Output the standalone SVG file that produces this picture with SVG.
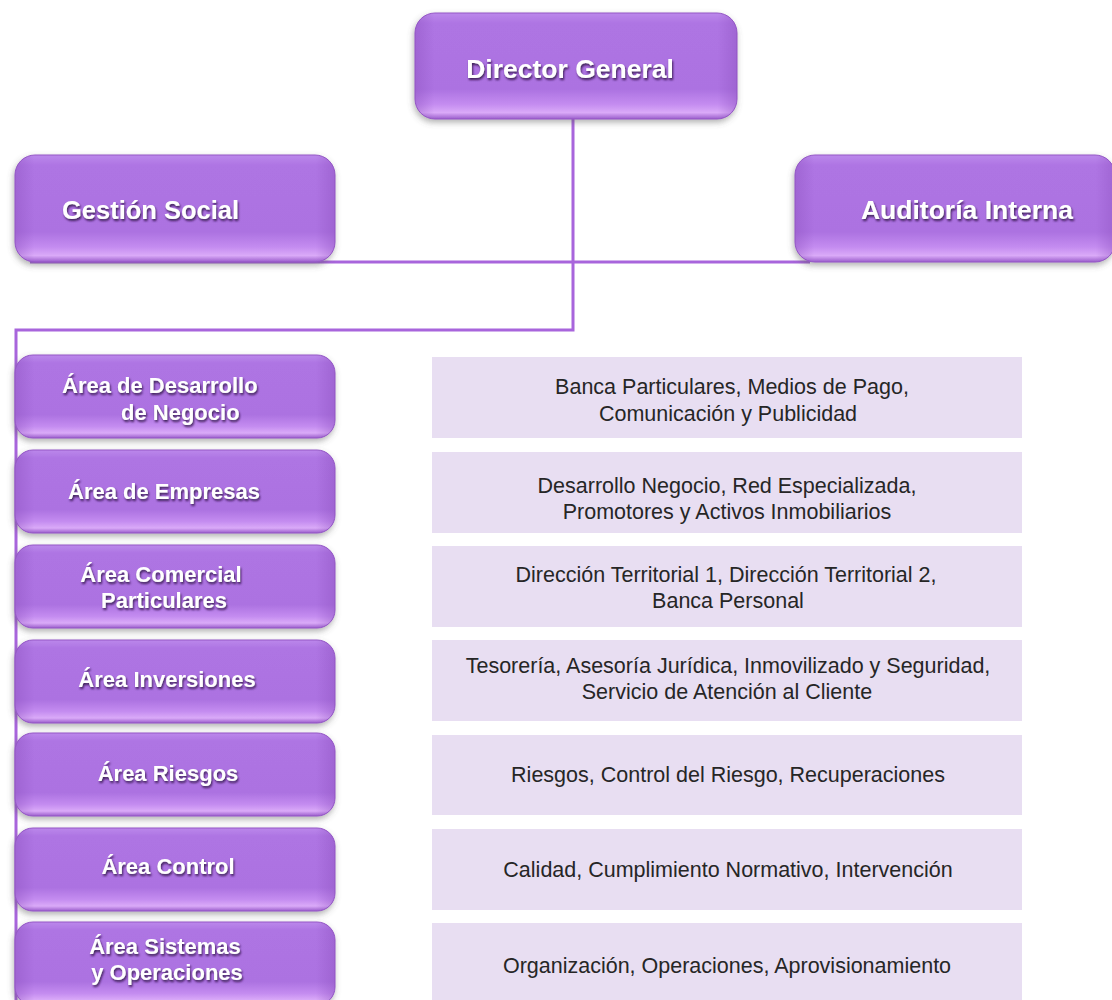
<svg xmlns="http://www.w3.org/2000/svg" width="1112" height="1000" viewBox="0 0 1112 1000">
<defs>
<linearGradient id="pg" x1="0" y1="0" x2="0" y2="1">
<stop offset="0" stop-color="#bb88eb"/>
<stop offset="0.1" stop-color="#ae74e3"/>
<stop offset="0.72" stop-color="#ac72e1"/>
<stop offset="0.86" stop-color="#c48cf0"/>
<stop offset="0.94" stop-color="#daaaf8"/>
<stop offset="1" stop-color="#9a5ccb"/>
</linearGradient>
<linearGradient id="side" x1="0" y1="0" x2="1" y2="0">
<stop offset="0" stop-color="#8e52c0" stop-opacity="0.45"/>
<stop offset="0.06" stop-color="#8e52c0" stop-opacity="0"/>
<stop offset="0.94" stop-color="#8e52c0" stop-opacity="0"/>
<stop offset="1" stop-color="#8e52c0" stop-opacity="0.45"/>
</linearGradient>
<filter id="bs" x="-10%" y="-20%" width="120%" height="150%">
<feDropShadow dx="-1" dy="3" stdDeviation="3" flood-color="#555" flood-opacity="0.45"/>
</filter>
<filter id="ts" x="-10%" y="-30%" width="120%" height="170%">
<feDropShadow dx="1" dy="2" stdDeviation="1.3" flood-color="#2a1040" flood-opacity="0.85"/>
</filter>
</defs>
<style>
.box{fill:url(#pg);stroke:#9557c6;stroke-width:1;filter:url(#bs)}
.sd{fill:url(#side)}
.lt{fill:#e8def2}
.bt{font-family:"Liberation Sans",Arial,sans-serif;font-weight:bold;fill:#fff;filter:url(#ts)}
.dt{font-family:"Liberation Sans",Arial,sans-serif;font-size:21.5px;fill:#262626;text-anchor:middle}
.con{fill:none;stroke:#a865dc;stroke-width:3}
</style>
<rect width="1112" height="1000" fill="#fff"/>

<g id="connectors">
<path class="con" d="M573 118 V330 H16 V1000"/>
<path class="con" d="M30 262 H810"/>
</g>

<g id="director-general">
<rect class="box" x="415" y="13" width="322" height="106" rx="20"/>
<rect class="sd" x="415" y="13" width="322" height="106" rx="20"/>
<text class="bt" x="570" y="78" font-size="26.5" text-anchor="middle">Director General</text>
</g>

<g id="gestion-social">
<rect class="box" x="15" y="155" width="320" height="107" rx="20"/>
<rect class="sd" x="15" y="155" width="320" height="107" rx="20"/>
<text class="bt" x="62" y="219" font-size="25.5">Gestión Social</text>
</g>

<g id="auditoria-interna">
<rect class="box" x="795" y="155" width="320" height="107" rx="20"/>
<rect class="sd" x="795" y="155" width="320" height="107" rx="20"/>
<text class="bt" x="1073" y="219" font-size="26.5" text-anchor="end">Auditoría Interna</text>
</g>

<g id="area-desarrollo">
<rect class="box" x="15" y="355" width="320" height="83" rx="18"/>
<rect class="sd" x="15" y="355" width="320" height="83" rx="18"/>
<text class="bt" x="62" y="393" font-size="22">Área de Desarrollo</text>
<text class="bt" x="121" y="420" font-size="22">de Negocio</text>
</g>
<g id="desarrollo-detalle">
<rect class="lt" x="432" y="357" width="590" height="81"/>
<text class="dt" x="732" y="394">Banca Particulares, Medios de Pago,</text>
<text class="dt" x="728" y="421">Comunicación y Publicidad</text>
</g>

<g id="area-empresas">
<rect class="box" x="15" y="450" width="320" height="83" rx="18"/>
<rect class="sd" x="15" y="450" width="320" height="83" rx="18"/>
<text class="bt" x="164" y="499" font-size="22" text-anchor="middle">Área de Empresas</text>
</g>
<g id="empresas-detalle">
<rect class="lt" x="432" y="452" width="590" height="81"/>
<text class="dt" x="727" y="493">Desarrollo Negocio, Red Especializada,</text>
<text class="dt" x="727" y="519">Promotores y Activos Inmobiliarios</text>
</g>

<g id="area-comercial">
<rect class="box" x="15" y="545" width="320" height="83" rx="18"/>
<rect class="sd" x="15" y="545" width="320" height="83" rx="18"/>
<text class="bt" x="161" y="582" font-size="22" text-anchor="middle">Área Comercial</text>
<text class="bt" x="164" y="608" font-size="22" text-anchor="middle">Particulares</text>
</g>
<g id="comercial-detalle">
<rect class="lt" x="432" y="546" width="590" height="81"/>
<text class="dt" x="726" y="582">Dirección Territorial 1, Dirección Territorial 2,</text>
<text class="dt" x="728" y="608">Banca Personal</text>
</g>

<g id="area-inversiones">
<rect class="box" x="15" y="640" width="320" height="83" rx="18"/>
<rect class="sd" x="15" y="640" width="320" height="83" rx="18"/>
<text class="bt" x="167" y="687" font-size="22" text-anchor="middle">Área Inversiones</text>
</g>
<g id="inversiones-detalle">
<rect class="lt" x="432" y="640" width="590" height="81"/>
<text class="dt" x="728" y="673">Tesorería, Asesoría Jurídica, Inmovilizado y Seguridad,</text>
<text class="dt" x="727" y="699">Servicio de Atención al Cliente</text>
</g>

<g id="area-riesgos">
<rect class="box" x="15" y="733" width="320" height="83" rx="18"/>
<rect class="sd" x="15" y="733" width="320" height="83" rx="18"/>
<text class="bt" x="168" y="781" font-size="22" text-anchor="middle">Área Riesgos</text>
</g>
<g id="riesgos-detalle">
<rect class="lt" x="432" y="735" width="590" height="80"/>
<text class="dt" x="728" y="782">Riesgos, Control del Riesgo, Recuperaciones</text>
</g>

<g id="area-control">
<rect class="box" x="15" y="828" width="320" height="83" rx="18"/>
<rect class="sd" x="15" y="828" width="320" height="83" rx="18"/>
<text class="bt" x="168" y="874" font-size="22" text-anchor="middle">Área Control</text>
</g>
<g id="control-detalle">
<rect class="lt" x="432" y="829" width="590" height="81"/>
<text class="dt" x="728" y="877">Calidad, Cumplimiento Normativo, Intervención</text>
</g>

<g id="area-sistemas">
<rect class="box" x="15" y="922" width="320" height="83" rx="18"/>
<rect class="sd" x="15" y="922" width="320" height="83" rx="18"/>
<text class="bt" x="165" y="954" font-size="22" text-anchor="middle">Área Sistemas</text>
<text class="bt" x="167" y="980" font-size="22" text-anchor="middle">y Operaciones</text>
</g>
<g id="sistemas-detalle">
<rect class="lt" x="432" y="923" width="590" height="81"/>
<text class="dt" x="727" y="973">Organización, Operaciones, Aprovisionamiento</text>
</g>
</svg>
